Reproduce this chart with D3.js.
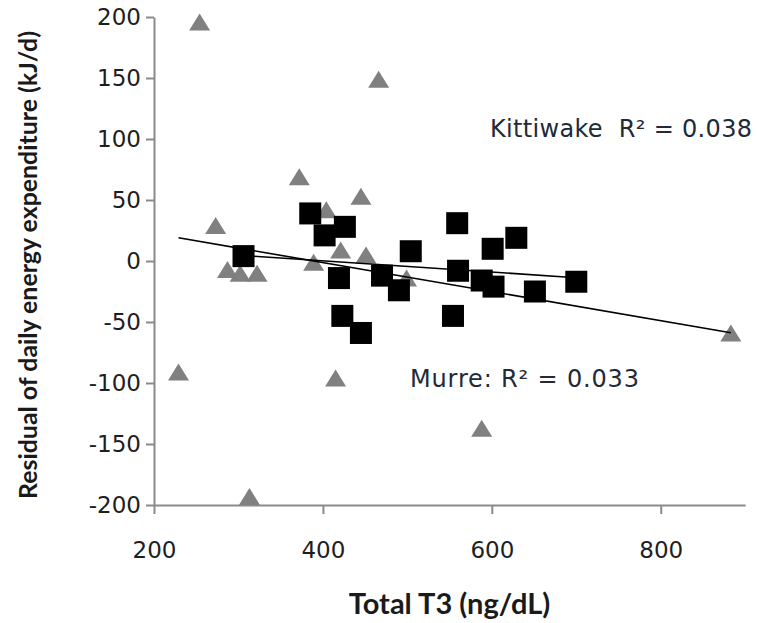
<!DOCTYPE html>
<html>
<head>
<meta charset="utf-8">
<script src="https://cdn.jsdelivr.net/npm/d3@7"></script>
<style>
  html, body { margin: 0; padding: 0; background: #ffffff; }
  svg { display: block; }
</style>
</head>
<body>
<svg id="chart" width="757" height="623"></svg>
<script>
// Total T3 (ng/dL) vs residual daily energy expenditure (kJ/d)
const xTickValues = [200, 400, 600, 800];
const yTickValues = [-200, -150, -100, -50, 0, 50, 100, 150, 200];

// Murre (grey triangles)
const murreT3    = [254, 466, 372, 445, 404, 273, 421, 451, 287, 302, 322, 389, 499, 229, 415, 313, 883, 588];
const murreResid = [196, 149,  69,  53,  42,  29,   9,   5,  -7, -10, -10,  -1, -14, -91, -96, -193, -59, -137];

// Kittiwake (black squares)
const kittiT3    = [385, 426, 402, 306, 504, 559, 629, 601, 560, 588, 602, 651, 700, 554, 419, 470, 490, 423, 445];
const kittiResid = [ 39,  28,  21,   4,   8,  31,  19,  10,  -8, -16, -21, -25, -17, -45, -14, -12, -24, -45, -59];

// Linear trendlines: [intercept, slope]
const murreTrend = [46.3, -0.119];
const kittiTrend = [18.5, -0.046];

const murreLabel = "Murre: R\u00B2 = 0.033";
const kittiLabel = "Kittiwake  R\u00B2 = 0.038";

const svg = d3.select("#chart");
svg.append("rect").attr("width", 757).attr("height", 623).attr("fill", "#ffffff");

const x = d3.scaleLinear().domain([200, 900]).range([154, 745.2]);
const y = d3.scaleLinear().domain([-200, 200]).range([505, 17]);

const axisColor = "#8a8a8a";
const tickFont = "'DejaVu Sans', Verdana, sans-serif";
const plainNumber = d => String(d);   // hyphen-minus for negatives

// Y axis
const gy = svg.append("g")
  .attr("transform", "translate(154,0)")
  .call(d3.axisLeft(y).tickValues(yTickValues).tickSize(8).tickSizeOuter(0).tickPadding(5).tickFormat(plainNumber));
gy.select(".domain").attr("stroke", axisColor).attr("stroke-width", 2);
gy.selectAll(".tick line").attr("stroke", axisColor).attr("stroke-width", 2);
gy.selectAll(".tick text")
  .attr("fill", "#1e1e1e").style("font-family", tickFont).style("font-size", "23px");

// X axis
const gx = svg.append("g")
  .attr("transform", "translate(0,505)")
  .call(d3.axisBottom(x).tickValues(xTickValues).tickSize(9).tickSizeOuter(0).tickPadding(28).tickFormat(plainNumber));
gx.select(".domain").attr("stroke", axisColor).attr("stroke-width", 2);
gx.selectAll(".tick line").attr("stroke", axisColor).attr("stroke-width", 2);
gx.selectAll(".tick text")
  .attr("fill", "#1e1e1e").style("font-family", tickFont).style("font-size", "23px");

// Axis titles
svg.append("text")
  .attr("x", 449.5).attr("y", 614)
  .attr("text-anchor", "middle")
  .style("font-family", "Lato, 'Open Sans', sans-serif")
  .style("font-weight", "bold").style("font-size", "29px")
  .attr("fill", "#1a1a1a")
  .text("Total T3 (ng/dL)");

svg.append("text")
  .attr("transform", "translate(37,265) rotate(-90)")
  .attr("text-anchor", "middle")
  .attr("textLength", 468).attr("lengthAdjust", "spacingAndGlyphs")
  .style("font-family", "Lato, 'Open Sans', sans-serif")
  .style("font-weight", "bold").style("font-size", "24px")
  .attr("fill", "#1a1a1a")
  .text("Residual of daily energy expenditure (kJ/d)");

// Markers: triangles for Murre
const triW = 21, triH = 17;
const triPath = `M0,${-triH / 2}L${triW / 2},${triH / 2}L${-triW / 2},${triH / 2}Z`;
svg.append("g").selectAll("path")
  .data(d3.zip(murreT3, murreResid))
  .join("path")
  .attr("d", triPath)
  .attr("transform", d => `translate(${x(d[0])},${y(d[1])})`)
  .attr("fill", "#808080");

// Markers: squares for Kittiwake
const sq = 22;
svg.append("g").selectAll("rect")
  .data(d3.zip(kittiT3, kittiResid))
  .join("rect")
  .attr("x", d => x(d[0]) - sq / 2)
  .attr("y", d => y(d[1]) - sq / 2)
  .attr("width", sq).attr("height", sq)
  .attr("fill", "#000000");

// Trendlines over each series' T3 range
const line = d3.line().x(d => x(d[0])).y(d => y(d[1]));
function trend(xs, coef) {
  const [lo, hi] = d3.extent(xs);
  return [[lo, coef[0] + coef[1] * lo], [hi, coef[0] + coef[1] * hi]];
}
svg.append("path").attr("d", line(trend(murreT3, murreTrend)))
  .attr("fill", "none").attr("stroke", "#000").attr("stroke-width", 1.6);
svg.append("path").attr("d", line(trend(kittiT3, kittiTrend)))
  .attr("fill", "none").attr("stroke", "#000").attr("stroke-width", 1.6);

// R² annotations
svg.append("text")
  .attr("x", 490).attr("y", 137)
  .attr("textLength", 262).attr("lengthAdjust", "spacing")
  .style("font-family", tickFont).style("font-size", "24px")
  .style("white-space", "pre")
  .attr("fill", "#222a3a")
  .text(kittiLabel);
svg.append("text")
  .attr("x", 410).attr("y", 387)
  .attr("textLength", 229).attr("lengthAdjust", "spacing")
  .style("font-family", tickFont).style("font-size", "24px")
  .attr("fill", "#222a3a")
  .text(murreLabel);
</script>
</body>
</html>
